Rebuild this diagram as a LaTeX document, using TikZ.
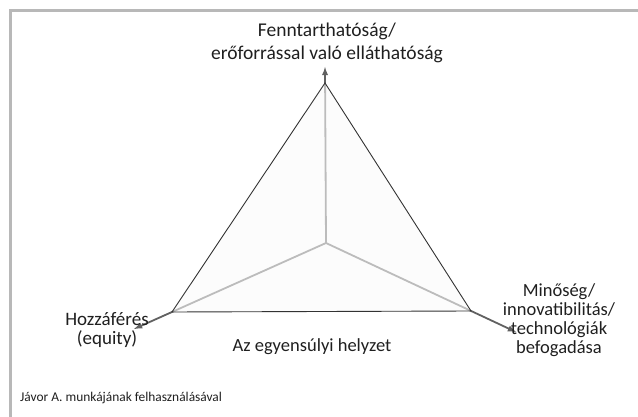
\documentclass[tikz,border=0pt]{standalone}
\usepackage{fontspec}
\setmainfont{Carlito}
\begin{document}
\begin{tikzpicture}[x=1pt,y=-1pt,
    axis/.style={line width=1.8pt,draw=black!62,-latex},
    vertextext/.style={align=center,text=black!88,inner sep=1pt,font=\fontsize{18.5}{19}\selectfont},
    toptext/.style={align=center,text=black!88,inner sep=1pt,font=\fontsize{19.5}{23}\selectfont}]
  \useasboundingbox (0,0) rectangle (638,417);
  %% frame
  \draw[line width=3pt,black!28] (10,417) -- (10,11) -- (638,11);
  %% corners and centre
  \coordinate (centre) at (326,243);
  \coordinate (top) at (325,83);
  \coordinate (left) at (172,312);
  \coordinate (right) at (471,311);
  \coordinate (topend) at (325,67);
  \coordinate (leftend) at (134,329);
  \coordinate (rightend) at (516,332);
  %% axes
  \draw[axis] (centre) -- (topend);
  \draw[axis] (centre) -- (leftend);
  \draw[axis] (centre) -- (rightend);
  %% triangle
  \draw[black!80,line width=0.9pt,fill=black!2,fill opacity=0.6] (top) -- (left) -- (right) -- cycle;
  %% labels
  \node[toptext] (sustain) at (327,43) {Fenntarthatóság/\\erőforrással való elláthatóság};
  \node[vertextext,font=\fontsize{19}{19}\selectfont] (access) at (107,330) {Hozzáférés\\(equity)};
  \node[vertextext] (quality) at (559,320) {Minőség/\\innovatibilitás/\\technológiák\\befogadása};
  \node[vertextext] (balance) at (312,347) {Az egyensúlyi helyzet};
  \node[anchor=west,text=black!88,inner sep=1pt,font=\fontsize{13.4}{15}\selectfont] (source) at (19,398) {Jávor A. munkájának felhasználásával};
\end{tikzpicture}
\end{document}
